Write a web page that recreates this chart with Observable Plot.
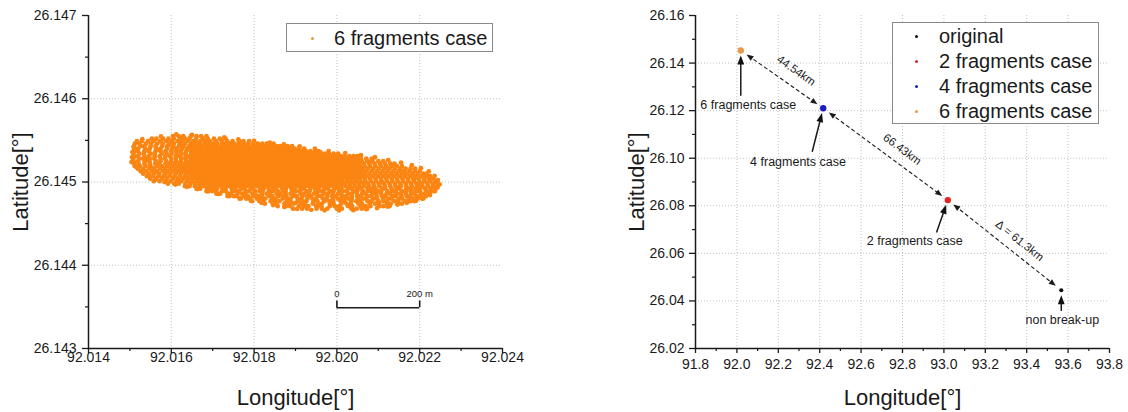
<!DOCTYPE html>
<html>
<head>
<meta charset="utf-8">
<script src="https://cdn.jsdelivr.net/npm/d3@7"></script>
<script src="https://cdn.jsdelivr.net/npm/@observablehq/plot@0.6"></script>
<style>
  html, body { margin: 0; padding: 0; background: #fff; }
  #chart { position: relative; width: 1128px; height: 412px; overflow: hidden; background: #fff;
           font-family: "Liberation Sans", Arial, Helvetica, sans-serif; color: #1a1a1a; }
  .panel { position: absolute; top: 0; }
  .legend { position: absolute; box-sizing: border-box; border: 1px solid #8a8a8a; background: #fff; }
  .legend .item { position: absolute; white-space: nowrap; font-size: 20px; line-height: 24px; height: 24px; }
  .legend .sw { position: absolute; width: 3px; height: 3px; border-radius: 50%; }
</style>
</head>
<body>
<div id="chart"></div>
<script>
// ---------------- data: left panel (6 fragments case cloud) ----------------
// each row: [latitude step, [longitude steps...]]; lon = 92.015 + step*1e-5, lat = 26.1446 + step*1e-6
const cloudLonOrigin = 92.015, cloudLonStep = 1e-5;
const cloudLatOrigin = 26.1446, cloudLatStep = 1e-6;
const cloudRows = [
  [950, [104,118,129,147,161,172]],
  [920, [53,64,80,93,106,121,133,144,160,176,188,203,217,231]],
  [890, [17,29,44,57,73,88,101,115,128,141,153,170,182,193,208,222,235,248,264,274,288]],
  [860, [12,23,39,51,66,79,95,106,121,133,148,158,169,180,190,201,211,222,232,243,253,264,275,286,298,309,320,331,339,347]],
  [830, [10,25,34,50,62,78,90,105,118,129,143,152,163,172,183,192,202,211,221,230,240,249,259,268,278,287,297,305,313,321,329,337,345,353,362,371,381,392]],
  [800, [11,20,37,48,63,74,90,102,113,126,138,149,158,168,177,187,196,206,215,225,234,244,253,263,272,282,291,300,308,316,323,331,339,346,354,362,370,379,388,398,409,421]],
  [770, [9,19,35,45,62,74,86,100,112,122,136,147,156,166,175,185,194,204,213,223,232,242,251,261,270,279,288,296,303,311,318,326,333,341,348,356,363,371,379,387,396,405,415,425,436,447,455]],
  [740, [9,23,34,50,60,77,89,101,113,125,135,148,157,167,176,185,195,204,214,223,232,242,251,260,268,275,281,288,294,300,307,313,319,326,332,338,345,351,357,364,370,376,383,389,396,403,410,418,426,434,443,452,461,471,481,492,503]],
  [710, [10,19,35,46,60,72,86,97,111,121,135,145,155,164,173,182,192,201,210,219,228,237,246,255,263,270,276,283,288,295,301,308,313,320,326,333,338,345,351,358,364,370,377,383,389,396,402,409,415,422,429,437,445,453,462,471,481,490,500,510,520,530,540,549,555]],
  [680, [8,22,32,48,59,74,85,100,111,124,134,147,157,166,175,184,194,203,212,221,230,239,248,257,265,271,278,283,290,295,302,307,313,320,325,331,338,343,349,356,361,367,374,379,385,392,397,403,410,415,421,428,435,442,449,456,464,473,482,491,500,510,519,528,538,548,558,571,584]],
  [650, [9,20,36,47,63,74,88,100,112,123,136,146,156,165,174,184,193,202,211,220,229,238,247,256,264,270,277,282,288,295,300,306,313,318,324,331,336,342,349,354,360,367,372,378,385,390,396,403,408,414,421,426,432,439,444,451,458,466,475,484,493,502,511,520,530,540,550,560,573,586,600,612]],
  [620, [10,21,35,48,61,71,86,97,109,121,132,143,152,161,170,180,189,198,207,216,225,234,243,252,261,268,274,281,286,292,299,304,310,317,322,328,335,340,346,353,358,364,371,376,382,389,394,400,407,412,418,425,430,436,443,448,455,462,470,478,487,496,505,514,524,534,544,554,565,578,591,604,616,629,639]],
  [590, [12,24,38,50,65,77,90,102,115,126,137,148,157,166,175,184,193,202,212,221,230,239,248,257,265,271,278,283,289,296,301,307,314,319,325,332,337,343,350,355,361,368,373,379,386,391,397,404,409,415,422,427,433,440,445,451,458,464,471,480,489,498,507,516,526,536,546,556,567,580,593,606,619,632,645,657]],
  [560, [19,32,47,58,73,85,98,110,122,134,145,154,163,172,181,190,199,208,217,226,235,244,253,262,268,275,280,287,292,299,304,311,316,323,328,335,340,347,352,359,364,371,376,383,388,395,400,407,412,419,424,431,436,443,448,455,461,468,477,486,495,504,513,523,533,543,553,563,575,588,601,614,627,640,653,666,678,689]],
  [530, [26,39,54,65,80,92,105,117,129,140,151,160,169,178,187,196,205,214,223,232,241,250,259,267,274,279,286,291,298,303,310,315,322,327,334,339,346,351,358,363,370,375,382,387,394,399,406,411,418,423,430,435,442,447,454,459,466,475,484,493,502,511,520,530,540,550,560,571,584,597,610,623,636,649,662,675,688,700]],
  [500, [32,46,59,71,86,98,111,123,135,146,155,164,173,182,191,200,209,218,227,236,245,254,263,270,277,282,289,294,301,306,313,318,325,330,337,342,349,354,361,366,373,378,385,390,397,402,409,414,421,426,433,438,445,450,457,463,471,480,489,498,507,516,526,536,546,556,567,579,592,605,618,631,644,657,670,683,696,709,717]],
  [470, [41,55,69,81,96,108,121,133,144,154,163,172,181,190,199,208,217,226,235,244,253,262,270,277,283,290,295,302,307,314,319,326,331,338,343,350,355,362,367,374,379,386,391,398,403,410,415,422,427,434,439,446,451,457,465,474,483,492,501,510,520,530,540,550,561,573,586,599,612,625,638,651,664,677,690,703,715,725]],
  [440, [49,63,77,89,104,116,129,140,151,160,169,178,187,196,205,214,223,232,241,250,259,268,276,283,291,297,305,311,319,325,333,339,347,353,361,367,375,381,389,395,403,409,417,423,431,437,445,451,459,468,477,486,495,504,514,524,534,544,555,567,580,593,606,619,632,645,658,671,684,697,710,722,733]],
  [410, [58,72,86,98,113,124,138,149,161,171,181,191,201,211,221,231,241,251,261,271,280,289,296,305,312,321,328,337,344,353,360,369,376,385,392,401,408,417,424,433,440,449,456,464,473,483,493,503,513,524,535,546,557,569,582,595,608,621,634,647,660,673,686,699,712,725,738]],
  [380, [92,107,118,134,146,156,167,177,188,198,208,218,228,238,248,258,268,277,285,293,301,309,317,325,333,341,349,357,365,373,381,389,397,405,413,421,429,437,445,453,461,470,480,490,500,510,520,531,542,553,564,575,588,601,614,627,640,653,666,679,692,705,718,731,743]],
  [350, [133,144,157,168,179,190,201,211,221,231,241,251,261,271,281,290,299,308,317,326,335,344,353,362,371,380,389,398,407,416,425,434,443,452,461,471,481,491,501,511,521,532,543,554,565,577,590,603,616,629,642,655,668,681,694,707,720,732,742]],
  [320, [161,170,187,195,211,224,231,246,254,269,277,292,298,314,323,335,346,352,368,377,390,399,413,420,436,447,455,470,478,493,503,511,527,536,549,558,574,585,593,609,617,632,644,651,667,676,690,701,713,726,737]],
  [290, [185,199,207,223,232,247,256,263,280,288,303,314,320,336,345,357,369,376,392,401,411,427,434,449,460,467,483,492,506,515,524,540,549,563,575,583,599,607,622,634,642,657,668,680,693,701,717,728,735]],
  [260, [209,218,236,244,260,271,279,296,303,319,330,338,354,363,376,388,395,412,421,433,445,452,469,478,490,503,510,527,536,548,561,569,586,595,607,620,628,645,654,666,679,687,703,712,724]],
  [230, [236,251,259,276,285,298,311,319,336,344,359,370,378,394,403,417,429,437,454,462,477,489,497,513,522,536,549,557,573,582,596,609,617,634,642,656,669,677,693,702,715]],
  [200, [265,281,290,307,318,327,344,352,369,380,388,405,414,429,441,449,466,475,490,502,510,527,536,551,563,571,588,597,612,624,632,649,658,673,685,695,706]],
  [170, [295,313,322,340,351,361,379,388,406,417,426,444,453,470,482,491,509,518,535,547,556,574,583,600,612,621,639,648,665,677,687]],
  [140, [326,345,354,373,385,395,414,423,442,454,464,483,492,511,523,533,552,561,580,592,602,621,630,648,657]],
  [110, [357,377,387,408,420,431,452,462,483,495,506,527,537,558,570,581,602,612,627]],
  [80,  [394,416,428,451,464,477,500,512,535,548,560,573]]
];
// scattered single dots of the cloud: [longitude step, latitude step]
const cloudExtras = [
  [30,915],[75,948],[112,972],[150,966],[185,950],[228,935],[262,912],[300,893],[338,873],[372,853],[410,828],[447,800],
  [480,772],[520,748],[558,722],[592,697],[624,662],[655,632],[681,601],[703,566],[722,527],[736,472],[744,423],[748,372],
  [14,585],[28,532],[44,478],[62,432],[84,398],[110,370],[138,343],[163,315],[189,287],[214,259],[241,231],[268,203],
  [292,176],[318,150],[346,124],[373,99],[404,76],[438,66],[470,60],[505,58],[540,62],[571,73],[597,87],[622,106],
  [646,129],[669,151],[691,174],[709,203],[725,243],[737,292],[743,334],[5,700],[6,760],[4,640],[9,820],
  [40,675],[70,785],[95,845],[125,905],[160,875],[58,560],[110,610],[140,705],[85,480],[120,420],[170,380],[205,330],
  [250,290],[300,240],[350,190],[400,150],[450,110],[500,95],[560,110],[600,170],[640,240],[680,300],[700,380],[690,450],
  [660,520],[620,580],[580,640],[540,690],[500,725],[460,760],[420,790],[380,815],[230,845],[195,805],[215,760],[180,660],
  [130,560],[170,505],[545,455],[610,395],[650,335],[590,275],[520,215],[470,175]
];
const leftXDomain = [92.014, 92.024];
const leftYDomain = [26.143, 26.147];
const leftXTicks = [92.014, 92.016, 92.018, 92.020, 92.022, 92.024];
const leftXMinor = [92.015, 92.017, 92.019, 92.021, 92.023];
const leftYTicks = [26.143, 26.144, 26.145, 26.146, 26.147];
const leftYMinor = [26.1435, 26.1445, 26.1455, 26.1465];
const leftXGrid = [92.016, 92.018, 92.020, 92.022];
const leftYGrid = [26.144, 26.145, 26.146];
const scaleBarLon = [92.020, 92.022];
const scaleBarLabels = ["0", "200 m"];
const scaleBarLat = 26.14349, scaleBarTickLat = 26.14357, scaleBarLabelLat = 26.14366;
const leftLegendNames = ["6 fragments case"];

// ---------------- data: right panel (impact points) ----------------
const seriesNames = ["original", "2 fragments case", "4 fragments case", "6 fragments case"];
const seriesLon = [93.567, 93.019, 92.417, 92.0188];
const seriesLat = [26.0445, 26.0824, 26.1210, 26.1453];
const routeOrder = ["6 fragments case", "4 fragments case", "2 fragments case", "original"];
const distanceLabels = ["44.54km", "66.43km", "\u0394 = 61.3km"];
const distanceLabelLon = [92.2865, 92.7986, 93.3662];
const distanceLabelLat = [26.1368, 26.1037, 26.0653];
const annotationTexts = ["6 fragments case", "4 fragments case", "2 fragments case", "non break-up"];
const annotationTargets = ["6 fragments case", "4 fragments case", "2 fragments case", "original"];
const annotationTextLon = [92.0551, 92.2952, 92.8589, 93.5720];
const annotationTextLat = [26.1224, 26.0985, 26.0650, 26.0319];
const annotationTailLon = [92.0188, 92.3638, 92.9643, 93.5670];
const annotationTailLat = [26.1263, 26.1027, 26.0688, 26.0358];
const rightXDomain = [91.8, 93.8];
const rightYDomain = [26.02, 26.16];
const rightXTicks = [91.8, 92.0, 92.2, 92.4, 92.6, 92.8, 93.0, 93.2, 93.4, 93.6, 93.8];
const rightXMinor = [91.9, 92.1, 92.3, 92.5, 92.7, 92.9, 93.1, 93.3, 93.5, 93.7];
const rightYTicks = [26.02, 26.04, 26.06, 26.08, 26.10, 26.12, 26.14, 26.16];
const rightYMinor = [26.03, 26.05, 26.07, 26.09, 26.11, 26.13, 26.15];
const rightXGrid = [92.0, 92.2, 92.4, 92.6, 92.8, 93.0, 93.2, 93.4, 93.6];
const rightYGrid = [26.04, 26.06, 26.08, 26.10, 26.12, 26.14];

// ---------------- styles ----------------
const ink = "#1a1a1a";
const cloudColor = "#fb8512";
const seriesColors = ["#111111", "#e42222", "#1c1cc8", "#e59a47"];
const distanceLabelAngles = [35, 36.5, 38.5];
const fontFamily = '"Liberation Sans", Arial, Helvetica, sans-serif';
const gridStyle = {stroke: "#c2c2c2", strokeOpacity: 1, strokeWidth: 1, strokeDasharray: "1,2"};
const connectorHeadColor = "#1c1c1c";
const annotationHeadColor = "#111111";

// ---------------- build ----------------
const chart = document.getElementById("chart");

const cloud = cloudRows.flatMap(([latS, lonSteps]) =>
  lonSteps.map(s => ({lon: cloudLonOrigin + s * cloudLonStep, lat: cloudLatOrigin + latS * cloudLatStep})))
  .concat(cloudExtras.map(([s, latS]) => ({lon: cloudLonOrigin + s * cloudLonStep, lat: cloudLatOrigin + latS * cloudLatStep})));

function axisMarks(xTicks, xMinor, yTicks, yMinor, xFmt, yFmt, xPad, yPad) {
  return [
    Plot.axisX(xTicks, {tickSize: 5, tickPadding: xPad, tickFormat: d3.format(xFmt), fontSize: 14, label: null, strokeWidth: 1.3}),
    Plot.axisX(xMinor, {tickSize: 3, tickFormat: () => "", label: null, strokeWidth: 1.2}),
    Plot.axisY(yTicks, {tickSize: 6, tickPadding: yPad, tickFormat: d3.format(yFmt), fontSize: 14, label: null, strokeWidth: 1.3}),
    Plot.axisY(yMinor, {tickSize: 3, tickFormat: () => "", label: null, strokeWidth: 1.2})
  ];
}

function titleMarks(yTitleDx) {
  return [
    Plot.text(["Latitude[\u00b0]"], {frameAnchor: "left", dx: yTitleDx, rotate: -90, fontSize: 22, fill: ink, textAnchor: "middle", lineAnchor: "middle"}),
    Plot.text(["Longitude[\u00b0]"], {frameAnchor: "bottom", dy: 49, fontSize: 22, fill: ink, textAnchor: "middle", lineAnchor: "middle"})
  ];
}

const leftPlot = Plot.plot({
  width: 560, height: 412,
  marginLeft: 88, marginRight: 58, marginTop: 15, marginBottom: 64,
  style: {fontFamily, fontSize: "14px", color: ink, background: "none", overflow: "visible"},
  x: {domain: leftXDomain, label: null},
  y: {domain: leftYDomain, label: null},
  marks: [
    Plot.gridX(leftXGrid, gridStyle),
    Plot.gridY(leftYGrid, gridStyle),
    Plot.dot(cloud, {x: "lon", y: "lat", r: 2.4, fill: cloudColor}),
    Plot.ruleY([{a: scaleBarLon[0], b: scaleBarLon[1]}], {y: () => scaleBarLat, x1: "a", x2: "b", stroke: ink, strokeWidth: 1.6}),
    Plot.ruleX(scaleBarLon, {x: d => d, y1: () => scaleBarLat, y2: () => scaleBarTickLat, stroke: ink, strokeWidth: 1.6}),
    Plot.text(scaleBarLabels, {x: (d, i) => scaleBarLon[i], y: () => scaleBarLabelLat, text: d => d, fontSize: 9.5, fill: ink}),
    Plot.ruleX([leftXDomain[0]], {stroke: ink, strokeWidth: 1.5}),
    Plot.ruleY([leftYDomain[0]], {stroke: ink, strokeWidth: 1.5}),
    ...axisMarks(leftXTicks, leftXMinor, leftYTicks, leftYMinor, ".3f", ".3f", -1, 6),
    ...titleMarks(-68)
  ]
});
leftPlot.classList.add("panel");
leftPlot.style.left = "0px";
chart.append(leftPlot);

const points = seriesNames.map((name, i) => ({name, lon: seriesLon[i], lat: seriesLat[i]}));
const byName = new Map(points.map(d => [d.name, d]));
const segments = d3.pairs(routeOrder).map(([a, b], i) => ({
  from: byName.get(a), to: byName.get(b),
  label: distanceLabels[i], labelLon: distanceLabelLon[i], labelLat: distanceLabelLat[i], angle: distanceLabelAngles[i]
}));
const annotations = annotationTexts.map((text, i) => ({
  text, target: byName.get(annotationTargets[i]),
  textLon: annotationTextLon[i], textLat: annotationTextLat[i],
  tailLon: annotationTailLon[i], tailLat: annotationTailLat[i]
}));

const seg = {x1: d => d.from.lon, y1: d => d.from.lat, x2: d => d.to.lon, y2: d => d.to.lat};
const ann = {x1: "tailLon", y1: "tailLat", x2: d => d.target.lon, y2: d => d.target.lat};

const rightPlot = Plot.plot({
  width: 568, height: 412,
  marginLeft: 135, marginRight: 19, marginTop: 15, marginBottom: 64,
  style: {fontFamily, fontSize: "14px", color: ink, background: "none", overflow: "visible"},
  x: {domain: rightXDomain, label: null},
  y: {domain: rightYDomain, label: null},
  color: {domain: seriesNames, range: seriesColors},
  marks: [
    Plot.gridX(rightXGrid, gridStyle),
    Plot.gridY(rightYGrid, gridStyle),
    Plot.ruleX([rightXDomain[0]], {stroke: ink, strokeWidth: 1.5}),
    Plot.ruleY([rightYDomain[0]], {stroke: ink, strokeWidth: 1.5}),
    ...axisMarks(rightXTicks, rightXMinor, rightYTicks, rightYMinor, ".1f", ".2f", 6, 5),
    Plot.arrow(segments, {...seg, headLength: 0, insetStart: 9, insetEnd: 9, stroke: ink, strokeWidth: 1.1, strokeDasharray: "4,2.5", strokeLinecap: "butt"}),
    Plot.link(segments, {...seg, stroke: connectorHeadColor, strokeOpacity: 0, markerStart: "arrow", markerEnd: "arrow"}),
    Plot.text(segments, {x: "labelLon", y: "labelLat", text: "label", rotate: "angle", fontSize: 11.5, fill: ink}),
    Plot.arrow(annotations, {...ann, headLength: 0, insetEnd: 8, stroke: ink, strokeWidth: 1.5, strokeLinecap: "butt"}),
    Plot.link(annotations, {...ann, stroke: annotationHeadColor, strokeOpacity: 0, markerEnd: "arrow"}),
    Plot.text(annotations, {x: "textLon", y: "textLat", text: "text", fontSize: 12.5, fill: ink}),
    Plot.dot(points.filter(d => d.name !== "original"), {x: "lon", y: "lat", fill: "name", r: 3.2}),
    Plot.dot(points.filter(d => d.name === "original"), {x: "lon", y: "lat", fill: "name", r: 2.1}),
    ...titleMarks(-59)
  ]
});
rightPlot.classList.add("panel");
rightPlot.style.left = "560px";
chart.append(rightPlot);

// solid triangular arrowheads on the link markers (start heads reversed so both ends point outward)
function solidHeads(svg) {
  const specs = {
    [connectorHeadColor]: {gap: 7, len: 7, half: 2.8},
    [annotationHeadColor]: {gap: 5, len: 9, half: 3.4}
  };
  svg.querySelectorAll("marker").forEach(m => {
    const color = m.getAttribute("stroke");
    const s = specs[color];
    if (!s) return;
    const w = s.gap + s.len + 4, h = 2 * s.half + 2;
    m.setAttribute("markerUnits", "userSpaceOnUse");
    m.setAttribute("orient", "auto-start-reverse");
    m.setAttribute("viewBox", `${-(s.gap + s.len + 2)} ${-(s.half + 1)} ${w} ${h}`);
    m.setAttribute("markerWidth", w);
    m.setAttribute("markerHeight", h);
    m.setAttribute("refX", 0);
    m.setAttribute("refY", 0);
    m.setAttribute("stroke", "none");
    m.setAttribute("fill", color);
    while (m.firstChild) m.removeChild(m.firstChild);
    const p = document.createElementNS("http://www.w3.org/2000/svg", "path");
    p.setAttribute("d", `M${-(s.gap + s.len)},${-s.half}L${-s.gap},0L${-(s.gap + s.len)},${s.half}Z`);
    p.setAttribute("fill", color);
    p.setAttribute("fill-opacity", "1");
    p.setAttribute("stroke", "none");
    m.appendChild(p);
  });
}
solidHeads(rightPlot);

// legends
function makeLegend(box, names, colors) {
  const el = document.createElement("div");
  el.className = "legend";
  Object.assign(el.style, {left: box.left + "px", top: box.top + "px", width: box.width + "px", height: box.height + "px"});
  names.forEach((n, i) => {
    const cy = box.firstRow + i * box.rowStep;
    const sw = document.createElement("div");
    sw.className = "sw";
    Object.assign(sw.style, {left: (box.swatchX - 1.5) + "px", top: (cy - 1.5) + "px", background: colors[i]});
    const t = document.createElement("div");
    t.className = "item";
    t.textContent = n;
    Object.assign(t.style, {left: box.textX + "px", top: (cy - 12) + "px"});
    el.append(sw, t);
  });
  chart.append(el);
}
makeLegend({left: 286, top: 23, width: 207, height: 29, firstRow: 14, rowStep: 25, swatchX: 25, textX: 47},
  leftLegendNames, [seriesColors[3]]);
makeLegend({left: 892, top: 22, width: 207, height: 102, firstRow: 13, rowStep: 25, swatchX: 23, textX: 46},
  seriesNames, seriesColors);
</script>
</body>
</html>
